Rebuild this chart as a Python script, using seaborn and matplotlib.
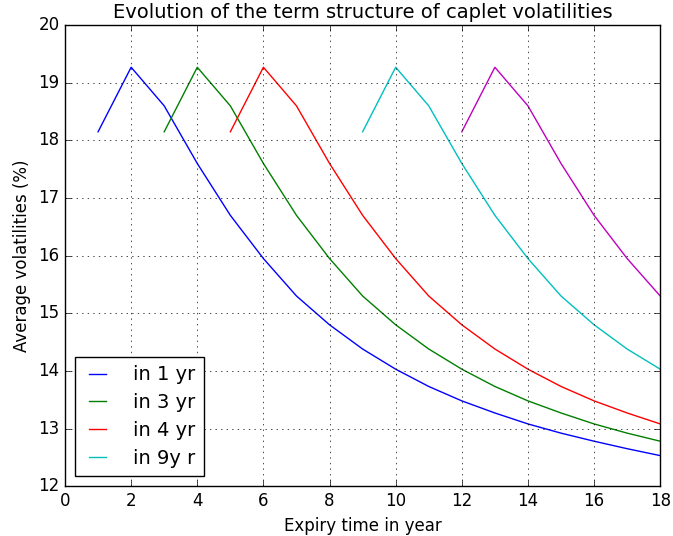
import matplotlib
matplotlib.use("Agg")
import matplotlib.pyplot as plt
import seaborn as sns
import pandas as pd

# Data
x_1yr = list(range(1, 19))
vol_1yr = [18.15, 19.27, 18.60, 17.60, 16.70, 15.95, 15.30, 14.80, 14.38,
           14.03, 13.73, 13.48, 13.27, 13.08, 12.92, 12.78, 12.65, 12.53]
x_3yr = list(range(3, 19))
vol_3yr = [18.15, 19.27, 18.60, 17.60, 16.70, 15.95, 15.30, 14.80, 14.38,
           14.03, 13.73, 13.48, 13.27, 13.08, 12.92, 12.78]
x_4yr = list(range(5, 19))
vol_4yr = [18.15, 19.27, 18.60, 17.60, 16.70, 15.95, 15.30, 14.80, 14.38,
           14.03, 13.73, 13.48, 13.27, 13.08]
x_9yr = list(range(9, 19))
vol_9yr = [18.15, 19.27, 18.60, 17.60, 16.70, 15.95, 15.30, 14.80, 14.38,
           14.03]
x_12yr = list(range(12, 19))
vol_12yr = [18.15, 19.27, 18.60, 17.60, 16.70, 15.95, 15.30]

labels = ["in 1 yr", "in 3 yr", "in 4 yr", "in 9y r", "_nolegend_"]
colors = ["b", "g", "r", "c", "m"]
xs = [x_1yr, x_3yr, x_4yr, x_9yr, x_12yr]
ys = [vol_1yr, vol_3yr, vol_4yr, vol_9yr, vol_12yr]

plt.style.use("classic")
plt.rcParams["font.family"] = ["DejaVu Sans"]

fig = plt.figure(figsize=(6.73, 5.36), dpi=100, facecolor="white")
ax = fig.add_axes([0.0966, 0.093, 0.8844, 0.86])

for xv, yv, lab, col in zip(xs, ys, labels, colors):
    df = pd.DataFrame({"x": xv, "y": yv})
    sns.lineplot(data=df, x="x", y="y", ax=ax, color=col, label=lab,
                 linewidth=1.0, legend=False)

ax.set_xlim(0, 18)
ax.set_ylim(12, 20)
ax.set_xticks(range(0, 19, 2))
ax.set_yticks(range(12, 21, 1))
ax.grid(True, color="black", linestyle=":", linewidth=0.5)
ax.set_title("Evolution of the term structure of caplet volatilities", fontsize=14)
ax.set_xlabel("Expiry time in year", fontsize=12)
ax.set_ylabel("Average volatilities (%)", fontsize=12)
ax.tick_params(labelsize=12)

handles, labs = ax.get_legend_handles_labels()
ax.legend(handles, labs, loc="lower left", fontsize=14, handlelength=1.45,
          handletextpad=1.1, borderpad=0.45, labelspacing=0.45)

fig.savefig("out.png", dpi=100, facecolor="white")
